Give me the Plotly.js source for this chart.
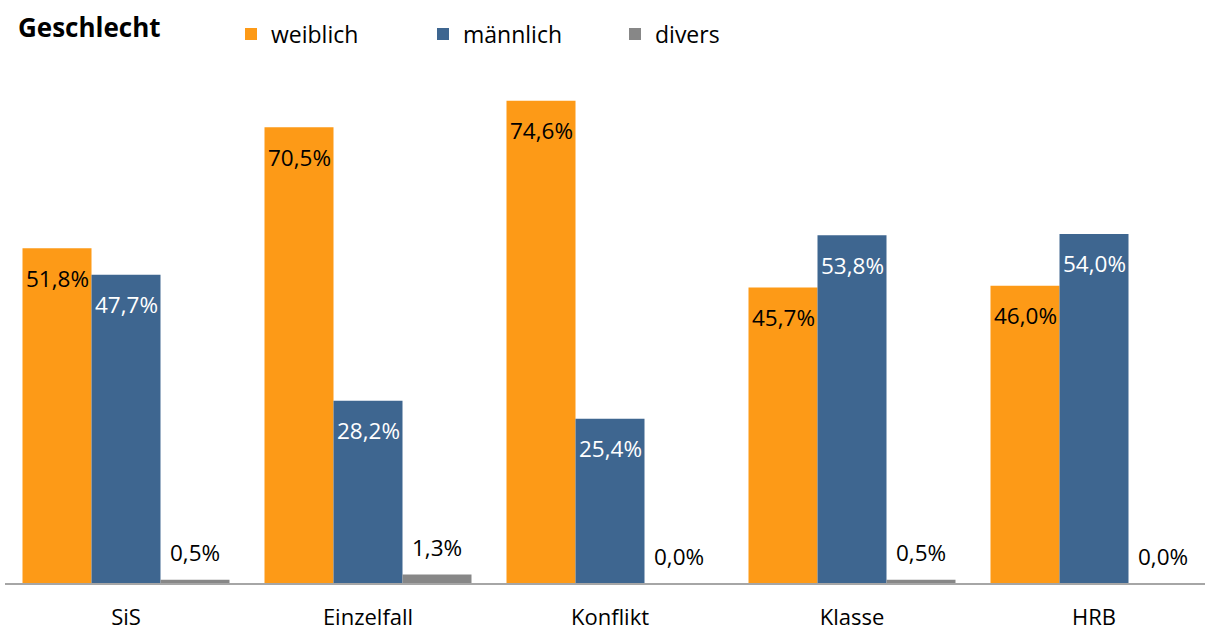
<!DOCTYPE html>
<html><head><meta charset="utf-8">
<script src="https://cdn.plot.ly/plotly-3.0.1.min.js"></script>
<style>html,body{margin:0;padding:0;overflow:hidden;background:#fff}</style>
</head><body><div id="chart" style="width:1205px;height:630px"></div>
<script>
const categories = ["SiS", "Einzelfall", "Konflikt", "Klasse", "HRB"];
const weiblich = [51.8, 70.5, 74.6, 45.7, 46.0];
const maennlich = [47.7, 28.2, 25.4, 53.8, 54.0];
const divers = [0.5, 1.3, 0.0, 0.5, 0.0];
const seriesNames = ["weiblich", "männlich", "divers"];
const seriesValues = [weiblich, maennlich, divers];
const colors = ["#FD9A17", "#3E6690", "#878787"];
const labelColors = ["#000000", "#FFFFFF", "#000000"];
const FONT = "Open Sans, sans-serif";

function fmt(v){ return v.toFixed(1).replace(".", ",") + "%"; }

const traces = seriesValues.map((vals, i) => ({
  type: "bar", name: seriesNames[i], x: categories, y: vals,
  marker: {color: colors[i], line: {width: 0}},
  hoverinfo: "skip"
}));

const barPx = 69;
const annotations = [];
seriesValues.forEach((vals, i) => {
  vals.forEach((v, j) => {
    const inside = i < 2;
    annotations.push({
      x: categories[j], y: v, xref: "x", yref: "y",
      xshift: (i - 1) * barPx, yshift: inside ? -30 : 27,
      text: fmt(v), showarrow: false, yanchor: "middle", xanchor: "center",
      font: {family: FONT, size: 22.5, color: labelColors[i]}
    });
  });
});

const plotW = 1200, catW = 242;
const layout = {
  width: 1205, height: 630,
  margin: {l: 5, r: 0, t: 60, b: 47},
  paper_bgcolor: "#fff", plot_bgcolor: "#fff",
  font: {family: FONT, size: 22, color: "#000"},
  title: {text: "<b>Geschlecht</b>", x: 18/1205, xanchor: "left", xref: "container",
          y: 1 - 28/630, yanchor: "middle", yref: "container",
          font: {family: FONT, size: 26, color: "#000"}},
  barmode: "group", bargap: 35/242, bargroupgap: 0,
  showlegend: true,
  legend: {orientation: "h", xref: "container", yref: "container",
           x: 231/1205, xanchor: "left", y: 1 - 34/630, yanchor: "middle",
           entrywidth: 147, entrywidthmode: "pixels",
           font: {family: FONT, size: 23, color: "#000"}, itemclick: false},
  xaxis: {type: "category", range: [-0.5, -0.5 + plotW/catW], showgrid: false,
          zeroline: false, showline: true, linecolor: "#A6A6A6", linewidth: 2,
          ticks: "", ticklabelstandoff: 14, automargin: false,
          tickfont: {family: FONT, size: 22, color: "#000"}},
  yaxis: {range: [0, 523/6.464], visible: false, showgrid: false, zeroline: false, fixedrange: true},
  annotations: annotations
};
Plotly.newPlot("chart", traces, layout, {staticPlot: true, displayModeBar: false});
</script></body></html>
